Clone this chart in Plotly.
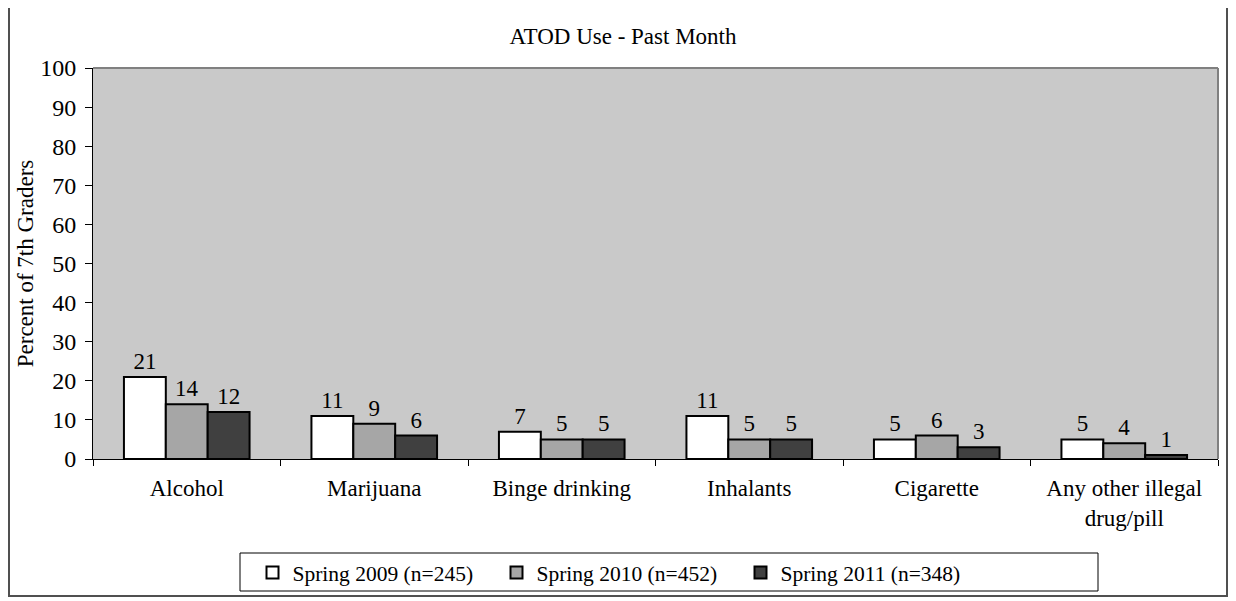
import plotly.graph_objects as go

# ATOD use, past month, percent of 7th graders
categories = ["Alcohol", "Marijuana", "Binge drinking", "Inhalants",
              "Cigarette", "Any other illegal<br>drug/pill"]
spring_2009 = [21, 11, 7, 11, 5, 5]
spring_2010 = [14, 9, 5, 5, 6, 4]
spring_2011 = [12, 6, 5, 5, 3, 1]
series_names = ["Spring 2009 (n=245)", "Spring 2010 (n=452)", "Spring 2011 (n=348)"]

FONT = "Liberation Serif, DejaVu Serif, Times New Roman, serif"
fills = ["#FFFFFF", "#A6A6A6", "#404040"]

# page body adds an 8px offset; plot area sits at 93..1218 x 68..459 on screen
W, H = 1236, 601
L, T, R, B = 85, 60, 26, 150
PW, PH = W - L - R, H - T - B


def px(x):
    return (x - 8 - L) / PW


def py(y):
    return (H - B - (y - 8)) / PH


fig = go.Figure()
for name, vals, col in zip(series_names, [spring_2009, spring_2010, spring_2011], fills):
    fig.add_trace(go.Bar(
        x=categories, y=vals, name=name,
        marker=dict(color=col, line=dict(color="#000000", width=2)),
        text=vals, textposition="outside", cliponaxis=False,
        textfont=dict(family=FONT, size=23, color="#000000"),
        hoverinfo="skip",
    ))

fig.update_layout(
    width=W, height=H,
    margin=dict(l=L, r=R, t=T, b=B, autoexpand=False),
    paper_bgcolor="#FFFFFF",
    plot_bgcolor="#C9C9C9",
    barmode="group", bargap=0.33, bargroupgap=0,
    font=dict(family=FONT, size=22, color="#000000"),
    title=dict(text="ATOD Use - Past Month", x=(623 - 8) / W, xanchor="center",
               y=1 - (36 - 8) / H, yanchor="middle",
               font=dict(family=FONT, size=23, color="#000000")),
    showlegend=True,
    legend=dict(orientation="h", x=px(252.5), xanchor="left", y=py(552), yanchor="top",
                bgcolor="rgba(0,0,0,0)", borderwidth=0,
                entrywidth=199, entrywidthmode="pixels",
                font=dict(family=FONT, size=21.5, color="#000000"),
                traceorder="normal"),
    shapes=[
        # outer chart frame
        dict(type="rect", xref="paper", yref="paper",
             x0=px(9), x1=px(1227), y0=py(596), y1=py(5),
             line=dict(color="#505050", width=2), layer="below"),
        # legend box
        dict(type="rect", xref="paper", yref="paper",
             x0=px(240), x1=px(1098), y0=py(591), y1=py(553),
             line=dict(color="#000000", width=1), fillcolor="#FFFFFF", layer="below"),
        # plot area top/right edges
        dict(type="line", xref="paper", yref="paper", x0=0, x1=1, y0=1, y1=1,
             line=dict(color="#808080", width=2)),
        dict(type="line", xref="paper", yref="paper", x0=1, x1=1, y0=0, y1=1,
             line=dict(color="#808080", width=2)),
    ],
)

fig.update_xaxes(
    showline=True, linecolor="#000000", linewidth=1,
    ticks="outside", tickson="boundaries", ticklen=6, tickcolor="#000000",
    showgrid=False, zeroline=False,
    tickfont=dict(family=FONT, size=23, color="#000000"),
    ticklabelstandoff=8,
)
fig.update_yaxes(
    range=[0, 100], dtick=10, tick0=0,
    showline=True, linecolor="#000000", linewidth=1,
    ticks="outside", ticklen=7, tickcolor="#000000",
    showgrid=False, zeroline=False,
    tickfont=dict(family=FONT, size=24, color="#000000"),
    ticklabelstandoff=4,
    title=dict(text="Percent of 7th Graders", standoff=0,
               font=dict(family=FONT, size=23, color="#000000")),
)

fig.write_html("out.html")
